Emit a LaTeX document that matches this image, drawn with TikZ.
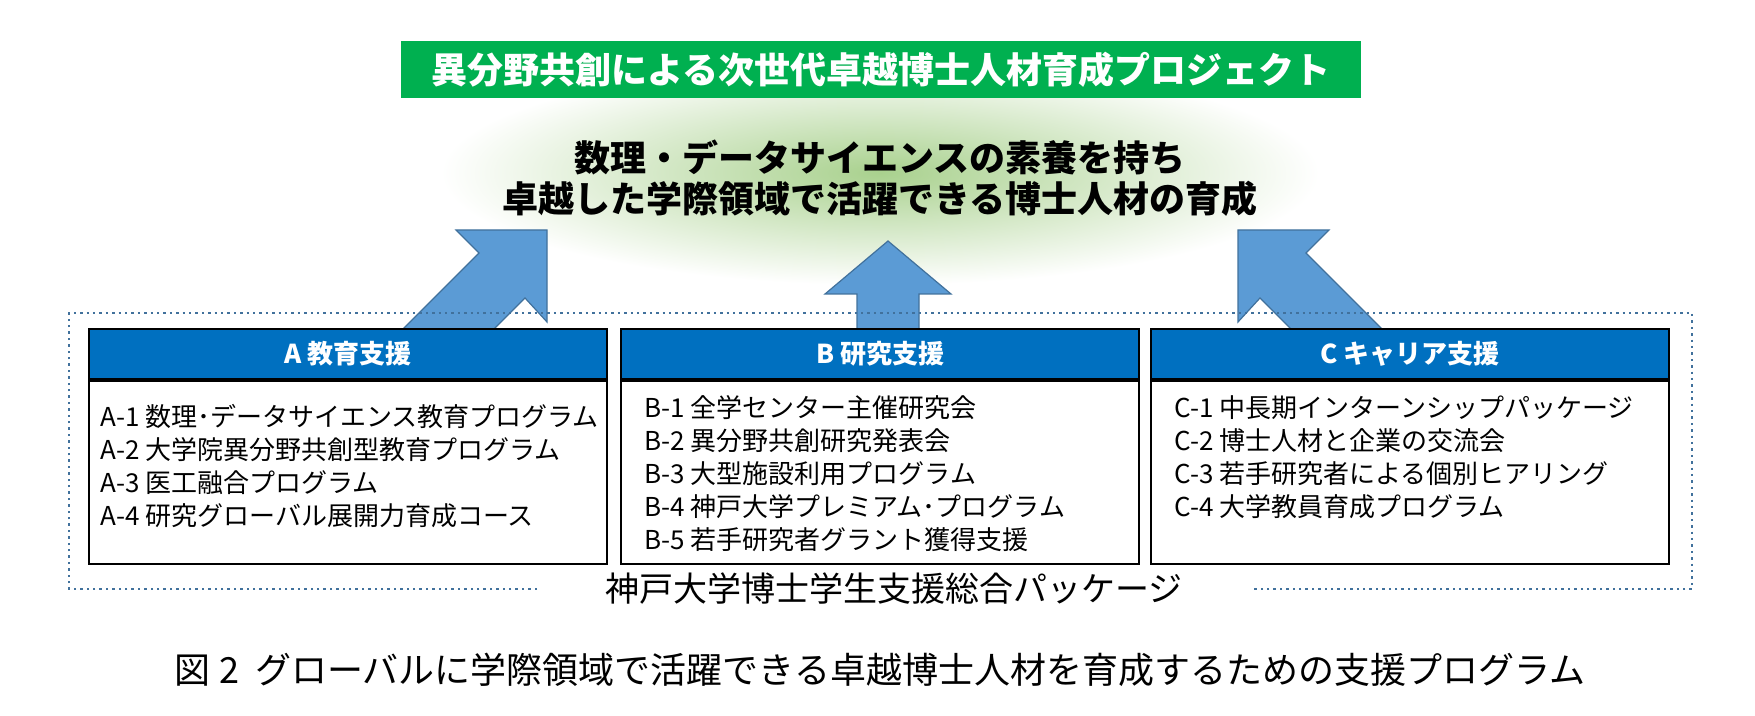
\documentclass[tikz,border=0pt]{standalone}
\usepackage{fontspec}
\setmainfont{Noto Sans CJK JP}
\usetikzlibrary{positioning}
\definecolor{projgreen}{RGB}{0,176,80}
\definecolor{headblue}{RGB}{0,112,192}
\definecolor{arrowblue}{RGB}{91,155,213}
\definecolor{arrowedge}{RGB}{65,113,156}
\definecolor{goalgreen}{RGB}{169,209,142}

\begin{document}
\begin{tikzpicture}[
    x=0.5pt, y=-0.5pt,
    headbox/.style={rectangle,draw=black,line width=1pt,fill=headblue,text=white,
        font=\fontsize{13pt}{15pt}\selectfont\bfseries,minimum width=259pt,minimum height=25pt},
    bodybox/.style={rectangle,draw=black,line width=1pt,minimum width=259pt,minimum height=91.5pt},
    itemlist/.style={anchor=north west,inner sep=0pt,align=left,font=\fontsize{13pt}{16.5pt}\selectfont},
    bigarrow/.style={fill=arrowblue,draw=arrowedge,line width=0.6pt}
]
\useasboundingbox (0,0) rectangle (1755,716);
% Goal ellipse and project title
\shade[inner color=goalgreen,outer color=white] (880,173) ellipse [x radius=439, y radius=112];
\node[font=\fontsize{18pt}{20.5pt}\selectfont\bfseries,align=center] (goal) at (880,178)
    {数理・データサイエンスの素養を持ち\\卓越した学際領域で活躍できる博士人材の育成};
\node[fill=projgreen,text=white,font=\fontsize{18pt}{20pt}\selectfont\bfseries,
    minimum width=480pt,minimum height=28.5pt] (title) at (881,69.5)
    {異分野共創による次世代卓越博士人材育成プロジェクト};
% Arrows
\draw[bigarrow] (547,230) -- (456,230) -- (479,253) -- (352,380) -- (443,380) -- (525,298) -- (547,322) -- cycle;
\draw[bigarrow] (888,241) -- (951,294) -- (919,294) -- (919,380) -- (857,380) -- (857,294) -- (825,294) -- cycle;
\draw[bigarrow] (1238,230) -- (1329,230) -- (1306,253) -- (1433,380) -- (1342,380) -- (1260,298) -- (1238,322) -- cycle;
% Package frame
\node[font=\fontsize{17pt}{19pt}\selectfont] (package) at (894,589) {神戸大学博士学生支援総合パッケージ};
\draw[arrowedge,dotted,line width=1.2pt] (537,589) -- (69,589) -- (69,313) -- (1692,313) -- (1692,589) -- (1251,589);
% A
\node[headbox] (hA) at (348,354) {A 教育支援};
\node[bodybox,below=0pt of hA] (bA) {};
\node[itemlist] (lA) at (100,404) {A-1 数理･データサイエンス教育プログラム\\A-2 大学院異分野共創型教育プログラム\\A-3 医工融合プログラム\\A-4 研究グローバル展開力育成コース};
% B
\node[headbox] (hB) at (880,354) {B 研究支援};
\node[bodybox,below=0pt of hB] (bB) {};
\node[itemlist] (lB) at (644,395) {B-1 全学センター主催研究会\\B-2 異分野共創研究発表会\\B-3 大型施設利用プログラム\\B-4 神戸大学プレミアム･プログラム\\B-5 若手研究者グラント獲得支援};
% C
\node[headbox] (hC) at (1410,354) {C キャリア支援};
\node[bodybox,below=0pt of hC] (bC) {};
\node[itemlist] (lC) at (1174,395) {C-1 中長期インターンシップパッケージ\\C-2 博士人材と企業の交流会\\C-3 若手研究者による個別ヒアリング\\C-4 大学教員育成プログラム};
% Caption
\node[font=\fontsize{18pt}{20pt}\selectfont] (caption) at (880,670) {図 2\ \ グローバルに学際領域で活躍できる卓越博士人材を育成するための支援プログラム};
\end{tikzpicture}
\end{document}
